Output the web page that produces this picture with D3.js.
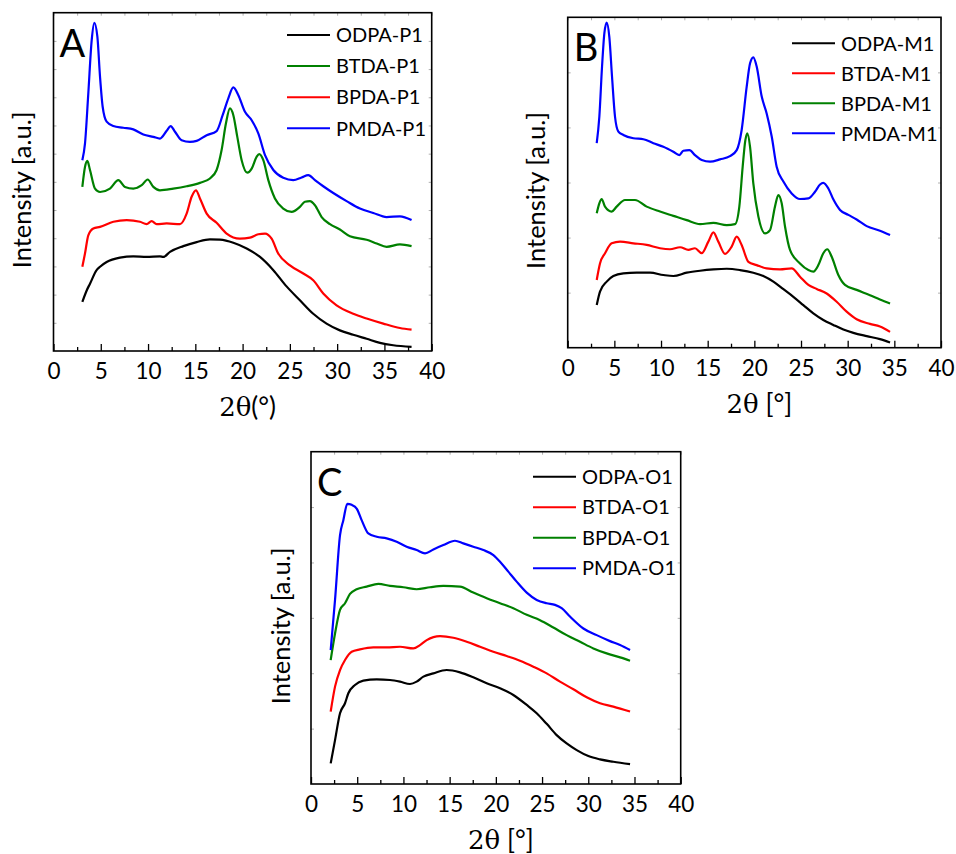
<!DOCTYPE html>
<html>
<head>
<meta charset="utf-8">
<script src="https://cdn.jsdelivr.net/npm/d3@7"></script>
<style>
  html, body { margin: 0; padding: 0; background: #fff; }
  svg { display: block; }
</style>
</head>
<body>
<svg id="chart" width="956" height="854"></svg>
<script>
// ---- X-ray diffraction patterns, intensity in arbitrary units (offset stacks) ----

// Panel A : P1 series  [2θ, intensity]
const odpaP1 = [[3.05,14.5],[3.51,17.9],[3.86,19.9],[4.56,23.9],[4.92,24.9],[5.62,26.3],[7.03,27.6],[8.44,28.0],[9.85,27.8],[11.26,28.0],[11.61,27.8],[12.32,29.3],[13.73,31.0],[15.14,32.2],[16.55,33.0],[17.61,32.9],[19.02,32.0],[20.43,30.3],[21.84,27.8],[23.25,23.9],[24.65,19.1],[26.06,15.0],[27.47,11.0],[28.88,8.1],[30.29,6.1],[31.70,4.8],[33.12,3.6],[34.53,2.4],[35.93,1.7],[37.87,1.2]];
const btdaP1 = [[3.05,48.5],[3.33,54.4],[3.58,56.2],[3.86,53.5],[4.39,48.0],[4.92,47.0],[5.97,48.0],[6.86,50.5],[7.56,48.5],[8.44,48.0],[9.33,49.0],[9.96,50.7],[10.56,48.5],[11.26,47.5],[12.67,48.0],[14.08,48.7],[15.49,49.7],[16.55,51.0],[17.25,53.5],[17.78,59.4],[18.24,67.3],[18.66,71.7],[19.02,69.7],[19.44,63.3],[19.90,56.4],[20.50,52.7],[20.96,53.9],[21.48,57.4],[21.76,58.2],[22.19,56.4],[22.72,50.5],[23.42,45.1],[24.30,42.1],[25.18,41.1],[26.06,42.6],[26.59,44.1],[27.12,44.3],[27.65,43.1],[28.36,39.6],[29.24,37.5],[30.29,35.9],[31.35,33.9],[33.12,32.9],[34.18,31.8],[35.23,30.8],[36.64,31.5],[37.87,31.0]];
const bpdaP1 = [[3.05,24.9],[3.33,28.8],[3.68,34.2],[4.21,36.2],[4.92,36.7],[6.33,38.2],[7.74,38.7],[9.15,38.2],[9.85,37.5],[10.38,38.4],[10.91,37.5],[11.97,37.7],[13.38,37.5],[14.08,40.6],[14.61,45.6],[15.07,47.5],[15.49,45.1],[16.20,40.6],[17.25,37.9],[18.31,34.7],[19.72,33.2],[20.78,33.5],[21.66,34.5],[22.37,34.7],[23.07,33.2],[23.77,28.8],[25.01,25.3],[26.42,22.9],[27.47,20.9],[28.53,17.0],[29.94,13.5],[31.70,11.0],[33.12,9.6],[34.88,8.1],[36.64,6.8],[37.87,6.3]];
const pmdaP1 = [[3.05,56.4],[3.33,61.3],[3.68,76.1],[4.04,91.9],[4.32,97.0],[4.64,92.9],[4.92,81.1],[5.20,72.2],[5.62,67.8],[6.33,66.5],[7.38,66.0],[8.44,65.5],[9.50,64.0],[10.56,63.3],[11.26,62.8],[11.97,65.1],[12.39,66.5],[12.85,64.8],[13.55,62.3],[14.43,61.8],[15.14,62.1],[16.20,63.8],[17.25,65.0],[17.89,69.7],[18.49,74.7],[19.02,77.9],[19.55,75.6],[20.25,70.7],[20.96,68.2],[21.66,64.3],[22.37,57.9],[23.25,53.5],[24.30,51.2],[25.36,50.5],[26.24,51.3],[26.95,52.0],[27.65,50.5],[28.53,48.7],[29.59,46.7],[31.00,44.3],[32.41,42.1],[33.82,40.8],[35.23,39.6],[36.64,39.8],[37.87,38.7]];

// Panel B : M1 series
const odpaM1 = [[3.11,12.9],[3.46,17.0],[4.18,20.0],[4.89,21.7],[5.96,22.5],[7.39,22.7],[8.82,22.7],[10.25,22.0],[11.32,21.7],[12.75,22.7],[14.18,23.3],[15.61,23.7],[17.04,23.9],[18.46,23.5],[19.89,22.7],[20.96,21.7],[22.04,20.0],[23.11,17.7],[24.18,15.4],[25.25,12.9],[26.32,10.4],[27.39,8.4],[28.46,6.9],[29.54,5.5],[30.61,4.5],[32.04,3.5],[33.46,2.6],[34.54,1.6]];
const btdaM1 = [[3.11,20.5],[3.46,25.5],[4.0,28.6],[4.71,31.6],[5.61,32.1],[7.04,31.6],[8.46,31.1],[9.89,30.1],[10.96,29.8],[12.04,30.4],[12.93,29.6],[13.64,30.1],[14.36,28.6],[15.07,32.1],[15.61,34.9],[16.14,32.1],[16.86,28.4],[17.57,30.6],[18.11,33.6],[18.64,31.1],[19.36,26.0],[20.25,25.0],[21.32,24.0],[22.75,23.7],[24.0,24.0],[24.89,21.5],[25.79,19.0],[26.68,17.8],[27.75,16.4],[28.82,13.9],[29.89,10.9],[30.96,8.6],[32.39,7.2],[33.46,6.4],[34.54,4.8]];
const bpdaM1 = [[3.11,40.7],[3.39,43.7],[3.64,45.0],[4.0,42.7],[4.71,41.2],[5.25,42.7],[6.14,44.7],[7.21,44.7],[8.46,42.7],[9.89,41.2],[11.32,39.9],[12.75,38.6],[14.18,37.4],[15.61,37.8],[17.04,37.1],[17.93,37.4],[18.39,42.7],[18.75,54.8],[19.04,62.9],[19.25,64.9],[19.54,60.8],[19.89,49.7],[20.43,39.7],[21.14,34.6],[21.68,35.6],[22.21,42.7],[22.57,46.2],[22.93,43.7],[23.29,36.6],[23.82,29.6],[24.89,25.5],[25.79,23.5],[26.32,23.0],[26.86,25.0],[27.39,28.6],[27.82,29.8],[28.29,27.5],[29.0,22.0],[29.71,19.0],[30.96,17.5],[32.39,15.9],[33.46,14.6],[34.54,13.4]];
const pmdaM1 = [[3.11,61.9],[3.39,69.9],[3.68,85.1],[3.93,95.2],[4.18,98.4],[4.46,94.1],[4.75,82.0],[5.07,69.9],[5.43,65.4],[5.96,64.4],[7.04,63.4],[8.11,63.1],[9.18,61.9],[10.25,60.8],[11.32,59.3],[11.96,58.3],[12.39,59.6],[13.04,59.8],[13.64,58.3],[14.36,56.8],[15.25,56.3],[16.32,57.0],[17.39,58.0],[18.11,59.8],[18.64,65.9],[19.18,79.0],[19.54,86.1],[19.89,87.9],[20.25,85.1],[20.79,76.0],[21.32,70.9],[21.86,63.9],[22.39,54.8],[23.11,50.3],[24.0,46.7],[24.89,45.0],[25.79,45.2],[26.5,47.2],[27.04,49.4],[27.39,49.9],[27.93,48.2],[28.46,44.9],[29.18,41.7],[30.07,40.2],[30.96,38.8],[32.04,36.8],[33.46,35.4],[34.54,34.1]];

// Panel C : O1 series
const odpaO1 = [[2.13,6.2],[2.60,13.2],[3.14,21.3],[3.68,24.3],[4.04,27.3],[4.76,29.8],[5.66,31.1],[7.11,31.5],[8.55,31.3],[9.63,30.8],[10.71,30.1],[11.43,30.8],[12.16,32.3],[13.24,33.3],[14.68,34.3],[16.12,33.6],[17.56,32.1],[19.01,30.3],[20.45,28.8],[21.89,26.8],[23.34,23.8],[24.42,21.3],[25.50,18.1],[26.58,14.7],[27.66,12.2],[28.75,10.2],[30.01,8.4],[31.27,7.4],[32.71,6.7],[34.52,6.0]];
const btdaO1 = [[2.13,21.8],[2.60,29.3],[3.14,34.3],[3.68,37.3],[4.40,39.8],[5.30,40.5],[6.74,41.1],[8.19,41.1],[9.63,41.3],[11.07,40.8],[11.79,41.8],[12.52,43.3],[13.96,44.5],[15.40,44.0],[16.84,42.8],[18.29,41.3],[19.73,39.8],[21.17,38.5],[22.61,37.1],[24.06,35.3],[25.50,33.3],[26.94,30.8],[28.39,28.5],[29.83,26.1],[31.27,24.3],[32.71,23.3],[34.52,21.8]];
const bpdaO1 = [[2.13,37.3],[2.60,45.3],[3.14,52.4],[3.68,54.4],[4.22,57.2],[4.94,58.6],[6.02,59.4],[7.29,60.2],[8.55,59.6],[9.99,59.2],[11.43,58.6],[12.88,59.2],[14.32,59.6],[16.12,59.4],[17.56,57.6],[19.01,55.9],[20.45,54.4],[21.89,52.9],[23.34,50.9],[24.78,49.3],[26.22,47.1],[27.66,44.8],[29.11,42.8],[30.55,40.8],[31.99,39.3],[33.44,38.1],[34.52,37.1]];
const pmdaO1 = [[2.13,40.3],[2.60,55.4],[3.14,74.9],[3.50,79.4],[3.93,84.3],[4.40,84.0],[4.94,82.9],[5.48,79.4],[6.20,75.4],[7.11,74.4],[8.19,73.9],[9.27,72.9],[10.35,71.4],[11.43,70.4],[12.34,69.4],[13.24,70.6],[14.32,71.9],[15.58,73.2],[16.48,72.4],[17.56,71.4],[18.65,70.4],[19.73,68.9],[20.45,66.9],[21.35,63.9],[22.25,60.9],[23.34,57.6],[24.42,55.4],[25.50,54.4],[26.40,53.9],[27.12,52.9],[28.02,50.4],[29.47,46.8],[30.91,44.8],[32.35,43.0],[33.44,41.8],[34.52,40.3]];

// Axis ticks
const xMajorTicks = [0, 5, 10, 15, 20, 25, 30, 35, 40];
const xMinorTicks = [2.5, 7.5, 12.5, 17.5, 22.5, 27.5, 32.5, 37.5];

const BLACK = "#000000", GREEN = "#008000", RED = "#ff0000", BLUE = "#0000ff";
const FONT = "Lato, 'Open Sans', sans-serif";
const SERIF = "'DejaVu Serif', 'Liberation Serif', serif";

const svg = d3.select("#chart");

function drawPanel(p) {
  const g = svg.append("g");
  const x = d3.scaleLinear().domain([0, 40]).range([p.left, p.right]);
  const y = d3.scaleLinear().domain([0, 100]).range([p.bottom, p.top]);
  const yTicks = d3.range(1, p.yDiv).map(i => i * 100 / p.yDiv);

  // faint mirror / left ticks
  const faint = "#b0b0b0";
  g.append("g").attr("transform", `translate(${p.left},0)`)
    .call(d3.axisLeft(y).tickValues(yTicks).tickSize(-3).tickFormat(""))
    .call(s => s.select(".domain").remove())
    .selectAll("line").attr("stroke", faint);
  g.append("g").attr("transform", `translate(${p.right},0)`)
    .call(d3.axisRight(y).tickValues(yTicks).tickSize(-3).tickFormat(""))
    .call(s => s.select(".domain").remove())
    .selectAll("line").attr("stroke", faint);
  g.append("g").attr("transform", `translate(0,${p.top})`)
    .call(d3.axisTop(x).tickValues(xMajorTicks.concat(xMinorTicks)).tickSize(-3).tickFormat(""))
    .call(s => s.select(".domain").remove())
    .selectAll("line").attr("stroke", faint);

  // bottom axis: inward major and minor ticks
  const bx = g.append("g").attr("transform", `translate(0,${p.bottom})`)
    .call(d3.axisBottom(x).tickValues(xMajorTicks).tickSize(-7).tickPadding(12));
  bx.select(".domain").remove();
  bx.selectAll("line").attr("stroke", "#000").attr("stroke-width", 1.3);
  bx.selectAll("text").attr("font-family", FONT).attr("font-size", 22.5).attr("fill", "#000");
  g.append("g").attr("transform", `translate(0,${p.bottom})`)
    .call(d3.axisBottom(x).tickValues(xMinorTicks).tickSize(-4).tickFormat(""))
    .call(s => s.select(".domain").remove())
    .selectAll("line").attr("stroke", "#000").attr("stroke-width", 1.3);

  // frame
  g.append("rect")
    .attr("x", p.left).attr("y", p.top)
    .attr("width", p.right - p.left).attr("height", p.bottom - p.top)
    .attr("fill", "none").attr("stroke", "#000").attr("stroke-width", 1.6);

  // curves
  const line = d3.line().x(d => x(d[0])).y(d => y(d[1])).curve(d3.curveMonotoneX);
  p.series.forEach(s => {
    g.append("path").datum(s.data)
      .attr("d", line)
      .attr("fill", "none")
      .attr("stroke", s.color)
      .attr("stroke-width", 2.2)
      .attr("stroke-linejoin", "round");
  });

  // legend
  p.series.forEach((s, i) => {
    const ly = p.legY + i * p.legStep;
    g.append("line")
      .attr("x1", p.legX).attr("x2", p.legX + 43)
      .attr("y1", ly).attr("y2", ly)
      .attr("stroke", s.color).attr("stroke-width", 2);
    g.append("text")
      .attr("x", p.legX + 49).attr("y", ly)
      .attr("dy", "0.36em")
      .attr("font-family", FONT).attr("font-size", 20)
      .text(s.name);
  });

  // panel letter
  g.append("text")
    .attr("x", p.left + 6).attr("y", p.top + 44)
    .attr("font-family", FONT).attr("font-size", 38)
    .text(p.letter);

  // axis titles
  g.append("text")
    .attr("transform", `translate(${p.yTitleX},${(p.top + p.bottom) / 2 + 8}) rotate(-90)`)
    .attr("text-anchor", "middle")
    .attr("font-family", FONT).attr("font-size", 25.5)
    .text("Intensity [a.u.]");

  const xt = g.append("text")
    .attr("x", (p.left + p.right) / 2 + 5).attr("y", p.bottom + 65)
    .attr("text-anchor", "middle")
    .attr("font-size", 26);
  xt.append("tspan").attr("font-family", SERIF).text("2θ");
  xt.append("tspan").attr("font-family", FONT).text(p.xUnit);
}

drawPanel({
  letter: "A", left: 53.5, right: 431.7, top: 12.7, bottom: 351, yDiv: 12,
  legX: 287, legY: 35, legStep: 31.1, yTitleX: 31, xUnit: "(°)",
  series: [
    { name: "ODPA-P1", color: BLACK, data: odpaP1 },
    { name: "BTDA-P1", color: GREEN, data: btdaP1 },
    { name: "BPDA-P1", color: RED, data: bpdaP1 },
    { name: "PMDA-P1", color: BLUE, data: pmdaP1 }
  ]
});

drawPanel({
  letter: "B", left: 567.7, right: 941, top: 17.3, bottom: 347.7, yDiv: 6,
  legX: 792, legY: 43.3, legStep: 30, yTitleX: 545, xUnit: " [°]",
  series: [
    { name: "ODPA-M1", color: BLACK, data: odpaM1 },
    { name: "BTDA-M1", color: RED, data: btdaM1 },
    { name: "BPDA-M1", color: GREEN, data: bpdaM1 },
    { name: "PMDA-M1", color: BLUE, data: pmdaM1 }
  ]
});

drawPanel({
  letter: "C", left: 311, right: 680.7, top: 451.7, bottom: 784, yDiv: 6,
  legX: 533, legY: 476.7, legStep: 30.5, yTitleX: 290, xUnit: " [°]",
  series: [
    { name: "ODPA-O1", color: BLACK, data: odpaO1 },
    { name: "BTDA-O1", color: RED, data: btdaO1 },
    { name: "BPDA-O1", color: GREEN, data: bpdaO1 },
    { name: "PMDA-O1", color: BLUE, data: pmdaO1 }
  ]
});
</script>
</body>
</html>
